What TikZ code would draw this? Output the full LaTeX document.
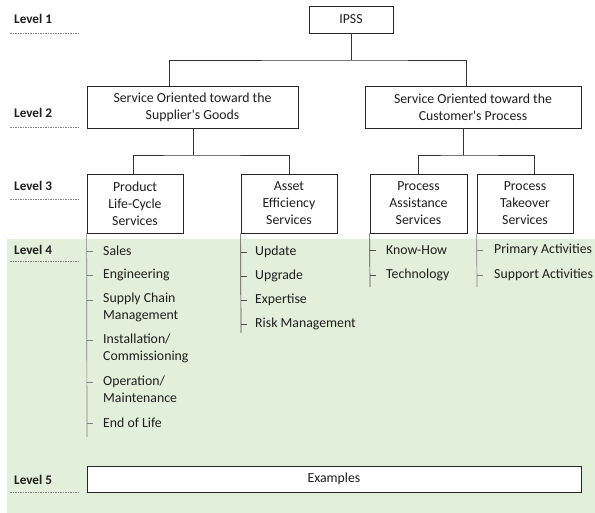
\documentclass[tikz,border=0pt]{standalone}
\usepackage{fontspec}
\setmainfont{Carlito}
\usetikzlibrary{calc}
\definecolor{bggreen}{HTML}{E2EFDA}
\definecolor{txt}{HTML}{1E1E1E}
\begin{document}
\begin{tikzpicture}[x=1pt,y=-1pt,
  every node/.style={text=txt},
  lbl/.style={font=\fontsize{13.2}{15}\selectfont\bfseries, anchor=west, inner sep=0pt},
  lvline/.style={gray, dash pattern=on 1.5pt off 1pt, line width=0.6pt},
  box/.style={draw=black!85, line width=0.8pt, fill=white, align=center, inner sep=0pt,
     font=\fontsize{13.8}{17}\selectfont},
  conn/.style={draw=black!80, line width=0.7pt},
  item/.style={font=\fontsize{13.8}{17}\selectfont, anchor=west, inner sep=0pt, align=left},
  stem/.style={draw=black!50, line width=0.7pt},
  tick/.style={draw=black!50, line width=0.6pt}]
\path[use as bounding box] (0,0) rectangle (595,513);
\fill[bggreen] (7,239) rectangle (595,513);

% level labels
\node[lbl] (lv1) at (14,19) {Level 1};
\node[lbl] (lv2) at (14,113) {Level 2};
\node[lbl] (lv3) at (14,186) {Level 3};
\node[lbl] (lv4) at (14,250) {Level 4};
\node[lbl] (lv5) at (14,480) {Level 5};
\coordinate (d1) at (10,33); \coordinate (d1e) at (80,33);
\coordinate (d2) at (10,127); \coordinate (d2e) at (80,127);
\coordinate (d3) at (10,199); \coordinate (d3e) at (80,199);
\coordinate (d4) at (10,261); \coordinate (d4e) at (80,261);
\coordinate (d5) at (10,492); \coordinate (d5e) at (80,492);
\foreach \i in {1,...,5} {\draw[lvline] (d\i) -- (d\i e);}

% boxes
\node[box, minimum width=84pt, minimum height=27pt] (ipss) at (351,19.5) {IPSS};
\node[box, minimum width=211pt, minimum height=42pt] (l2a) at (192.5,107) {Service Oriented toward the\\Supplier\textquotesingle s Goods};
\node[box, minimum width=216pt, minimum height=42pt] (l2b) at (473,107) {Service Oriented toward the\\Customer\textquotesingle s Process};
\node[box, minimum width=96pt, minimum height=59pt] (l3a) at (135,203.5) {Product\\Life-Cycle\\Services};
\node[box, minimum width=96pt, minimum height=59pt] (l3b) at (289,203.5) {Asset\\Efficiency\\Services};
\node[box, minimum width=97pt, minimum height=59pt] (l3c) at (418.5,203.5) {Process\\Assistance\\Services};
\node[box, minimum width=96pt, minimum height=59pt] (l3d) at (525,203.5) {Process\\Takeover\\Services};
\node[box, minimum width=494pt, minimum height=26pt] (l5) at (334,479) {Examples};

% connectors
\coordinate (j1) at (351,60);
\draw[conn] (ipss.south) -- (j1);
\draw[conn] (l2a.north -| 169,0) |- (j1) -| (l2b.north -| 466,0);
\coordinate (j2) at (193,155);
\draw[conn] (l2a.south -| j2) -- (j2);
\draw[conn] (l3a.north -| 133,0) |- (j2) -| (l3b.north);
\coordinate (j3) at (463,155);
\draw[conn] (l2b.south -| j3) -- (j3);
\draw[conn] (l3c.north) |- (j3) -| (l3d.north -| 534,0);

% level 4 lists
\node[item] (a1) at (103,251) {Sales};
\node[item] (a2) at (103,275) {Engineering};
\node[item] (a3) at (103,307.5) {Supply Chain\\Management};
\node[item] (a4) at (103,348.5) {Installation/\\Commissioning};
\node[item] (a5) at (103,389.5) {Operation/\\Maintenance};
\node[item] (a6) at (103,423) {End of Life};
\coordinate (ae) at (87,437);
\draw[stem] (l3a.south west) -- (ae);
\foreach \y in {251,275,300,340,382,423} {\draw[tick] (87,\y) -- (93,\y);}

\node[item] (b1) at (255,252) {Update};
\node[item] (b2) at (255,276) {Upgrade};
\node[item] (b3) at (255,300) {Expertise};
\node[item] (b4) at (255,324) {Risk Management};
\coordinate (be) at (241,333);
\draw[stem, draw=black!70] (l3b.south west) -- (be);
\foreach \y in {252,276,300,324} {\draw[tick, draw=black!70] (241,\y) -- (247,\y);}

\node[item] (c1) at (386,250) {Know-How};
\node[item] (c2) at (386,275) {Technology};
\coordinate (ce) at (370,287);
\draw[stem, draw=black!70] (l3c.south west) -- (ce);
\foreach \y in {250,275} {\draw[tick, draw=black!70] (370,\y) -- (376,\y);}

\node[item] (e1) at (494,250) {Primary Activities};
\node[item] (e2) at (494,275) {Support Activities};
\coordinate (ee) at (477,287);
\draw[stem] (l3d.south west) -- (ee);
\foreach \y in {250,275} {\draw[tick] (477,\y) -- (483,\y);}
\end{tikzpicture}
\end{document}
